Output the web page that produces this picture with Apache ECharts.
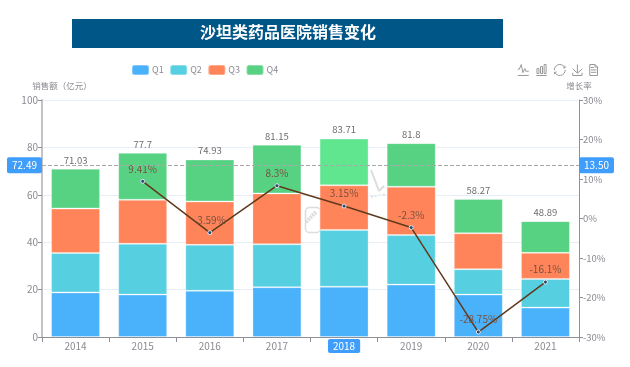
<!DOCTYPE html>
<html><head><meta charset="utf-8">
<style>html,body{margin:0;padding:0;background:#fff}#c{width:630px;height:367px}</style>
<script src="https://cdn.jsdelivr.net/npm/echarts@6/dist/echarts.min.js"></script>
</head><body><div id="c"></div>
<script>
const years=['2014','2015','2016','2017','2018','2019','2020','2021'];
const q1=[18.8,17.9,19.5,21,21.2,22.1,17.9,12.4];
const q2=[16.6,21.4,19.4,18.1,24,20.9,10.7,12.1];
const q3=[18.8,18.6,18.3,21.5,18.8,20.4,15.2,11];
const q4=[16.83,19.8,17.73,20.55,19.71,18.4,14.47,13.39];
const totals=[71.03,77.7,74.93,81.15,83.71,81.8,58.27,48.89];
const growth=[null,9.41,-3.59,8.3,3.15,-2.3,-28.75,-16.1];
const font='"Noto Sans CJK SC","Noto Sans",sans-serif';
const grey='#8a8a92';
const chart=echarts.init(document.getElementById('c'),null,{renderer:'canvas'});
const ap=(v)=>({show:true,status:'show',value:v,type:'line',lineStyle:{color:'#aaa',type:'dashed',width:1},
  label:{show:true,backgroundColor:'#3f9dfb',color:'#fff',fontSize:10,padding:[3,5],borderRadius:2,margin:0,
  formatter:p=>Number(p.value).toFixed(2)}});
const bar=(name,data,color,extra)=>Object.assign({name,type:'bar',stack:'s',barWidth:49,data,
  itemStyle:{color,borderColor:'rgba(255,255,255,0.3)',borderWidth:1}},extra||{});
const wm='#dcdcdc';
chart.setOption({
  animation:false,
  textStyle:{fontFamily:font},
  graphic:[
    {type:'rect',left:72,top:19,shape:{width:431,height:29},style:{fill:'#005687'}},
    {type:'text',left:200,top:24,style:{text:'沙坦类药品医院销售变化',fill:'#fff',font:'bold 16px '+font}},
    {type:'rect',left:303,top:205,shape:{width:15,height:25,r:4},style:{fill:'none',stroke:wm,lineWidth:1.5}},
    {type:'line',shape:{x1:306,y1:222,x2:316,y2:212},style:{stroke:wm,lineWidth:4,lineDash:[2,1]}},
    {type:'line',shape:{x1:371,y1:170,x2:379,y2:191},style:{stroke:wm,lineWidth:2}},
    {type:'line',shape:{x1:379,y1:191,x2:384,y2:186},style:{stroke:wm,lineWidth:2}},
    {type:'line',shape:{x1:371,y1:197,x2:386,y2:194},style:{stroke:wm,lineWidth:1.5,lineDash:[2,2]}}
  ],
  legend:{top:59,left:126,itemWidth:17,itemHeight:10,itemGap:5.5,data:['Q1','Q2','Q3','Q4'],
    textStyle:{color:grey,fontSize:9,padding:[0,0,0,-2]}},
  toolbox:{show:true,right:15,top:47,itemSize:11,itemGap:2.5,
    iconStyle:{borderColor:'#999',color:'none',borderWidth:1},
    feature:{magicType:{type:['line','bar']},restore:{},saveAsImage:{},dataView:{}}},
  grid:{left:42,right:51,top:100,bottom:30,containLabel:false},
  xAxis:{type:'category',data:years,
    axisPointer:{show:true,status:'show',value:'2018',type:'none',
      label:{show:true,backgroundColor:'#3f9dfb',color:'#fff',fontSize:10,padding:[2,5],borderRadius:2,margin:2}},
    axisLine:{lineStyle:{color:'#8f8f96'}},axisTick:{show:true,alignWithLabel:false,lineStyle:{color:'#8f8f96'}},
    axisLabel:{color:grey,fontSize:10,margin:4}},
  yAxis:[
    {type:'value',min:0,max:100,interval:20,name:'销售额（亿元）',nameGap:10,
      nameTextStyle:{color:grey,fontSize:8.5,align:'center',padding:[0,0,0,40]},
      axisLine:{show:true,lineStyle:{color:'#c2c2c8',width:2}},axisTick:{show:true,length:4,lineStyle:{color:'#8f8f96'}},
      axisLabel:{color:grey,fontSize:10,margin:4},splitLine:{lineStyle:{color:'#e8eef6'}},axisPointer:ap(72.49)},
    {type:'value',min:-30,max:30,interval:10,name:'增长率',nameGap:10,
      nameTextStyle:{color:grey,fontSize:8.5},
      axisLine:{show:true,lineStyle:{color:'#8f8f96'}},axisTick:{show:true,length:4,lineStyle:{color:'#8f8f96'}},
      axisLabel:{color:grey,fontSize:9.5,margin:4,formatter:'{value}%'},splitLine:{show:false},axisPointer:ap(13.5)}
  ],
  series:[
    bar('Q1',q1,'#4ab1fb'),
    bar('Q2',q2,'#56cfe0'),
    bar('Q3',q3,'#ff845a'),
    bar('Q4',q4.map((v,i)=>i===4?{value:v,itemStyle:{color:'#60e68f'}}:v),'#57d283',{
      label:{show:true,position:'top',distance:4,color:'#6e6e6e',fontSize:9.5,formatter:p=>totals[p.dataIndex]}}),
    {name:'增长率',type:'line',yAxisIndex:1,data:growth,z:5,symbol:'circle',symbolSize:4,connectNulls:false,
      lineStyle:{color:'#5f3a1c',width:1.5},itemStyle:{color:'#2c4a6e',borderColor:'#dfe8f0',borderWidth:1},
      label:{show:true,position:'top',distance:5,color:'#7a5040',fontSize:10,formatter:p=>p.value+'%'}}
  ]
});
</script></body></html>
